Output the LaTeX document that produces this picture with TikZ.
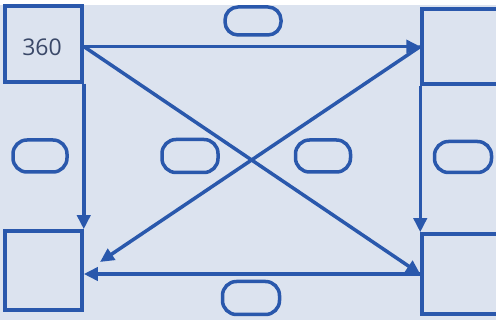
\documentclass[tikz,border=0pt]{standalone}
\usepackage{fontspec}
\setmainfont{Open Sans}
\usetikzlibrary{arrows.meta, positioning}

\definecolor{ink}{HTML}{2A58AC}
\definecolor{paper}{HTML}{DCE3EF}
\definecolor{numgray}{HTML}{3A4868}

\begin{document}
\begin{tikzpicture}[
    x=1pt, y=-1pt,
    >={Triangle[length=14pt, width=13pt]}, % Set default arrow tip style
    box/.style={draw=ink, line width=3.5pt, inner sep=0pt}, % Style for boxes
    oval/.style={draw=ink, line width=3.5pt, rounded corners=14pt, inner sep=0pt, minimum width=56pt, minimum height=31pt}, % Style for empty ovals
    link/.style={->, draw=ink, line width=3.5pt}
]

% Page and background
\useasboundingbox (0,0) rectangle (496,320);
\clip (0,0) rectangle (496,320);
\fill[paper] (0,5) rectangle (496,320);

% Boxes
\node[box, minimum width=77pt, minimum height=76pt] (b1) at (43.5,44) {};
\node[box, minimum width=110pt, minimum height=75pt] (b2) at (477,46.5) {};
\node[box, minimum width=77pt, minimum height=79pt] (b3) at (43.5,270.5) {};
\node[box, minimum width=110pt, minimum height=80pt] (b4) at (477,274) {};
\node[text=numgray, font=\fontsize{23}{23}\selectfont] (num) at (42,47) {360};

% Empty ovals
\node[oval, minimum height=28pt, rounded corners=13pt] (o1) at (253,21) {};
\node[oval, minimum width=54pt, minimum height=32pt] (o2) at (40,156) {};
\node[oval, minimum height=33pt] (o3) at (190,156) {};
\node[oval, minimum width=55pt, minimum height=32pt] (o4) at (323,156) {};
\node[oval, minimum width=57pt] (o5) at (463,157) {};
\node[oval, minimum width=57pt, minimum height=33pt] (o6) at (251,298) {};

% Free end of the rising diagonal
\coordinate (p) at (100,262);

% Arrows
\draw[link] (b1.east |- b2.west) -- (b2.west);
\draw[link] (b1.south east) -- (b3.north east);
\draw[link] (b2.south west) -- (b4.north west);
\draw[link] (b4.west) -- (b3.east |- b4.west);
\draw[link] (b1.east |- b2.west) -- (b4.west);
\draw[link] (b2.west) -- (p);

\end{tikzpicture}
\end{document}
